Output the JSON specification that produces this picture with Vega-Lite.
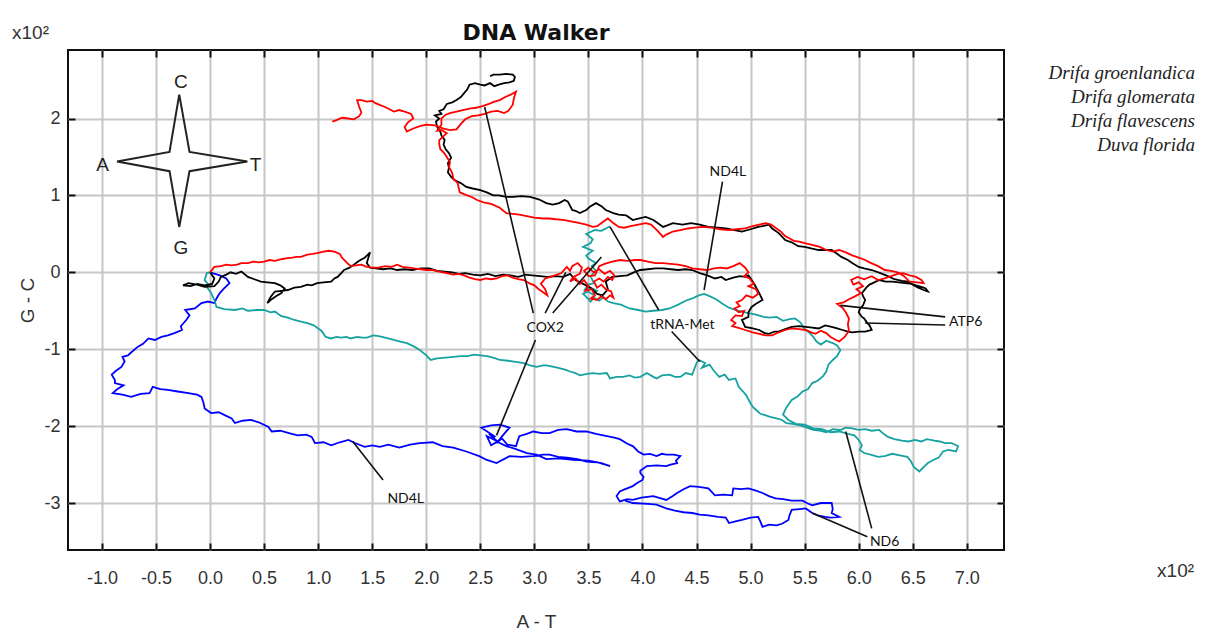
{
  "$schema": "https://vega.github.io/schema/vega-lite/v6.json",
  "autosize": {"type": "none"},
  "width": 936,
  "height": 500,
  "padding": {"left": 68, "top": 50, "right": 201, "bottom": 82},
  "background": "white",
  "config": {"view": {"stroke": "#111", "strokeWidth": 2}},
  "title": {"text": "DNA Walker", "font": "DejaVu Sans", "fontSize": 22, "fontWeight": "bold", "color": "#111", "anchor": "middle", "frame": "group", "offset": -21},
  "datasets": {
    "walk": [
      {"s":"B","x":0,"y":0},{"s":"B","x":0.09,"y":-0.04},{"s":"B","x":0.15,"y":-0.08},{"s":"B","x":0.18,"y":-0.14},{"s":"B","x":0.13,"y":-0.21},{"s":"B","x":0.09,"y":-0.27},{"s":"B","x":0.06,"y":-0.34},{"s":"B","x":0.04,"y":-0.40},{"s":"B","x":-0.02,"y":-0.38},{"s":"B","x":-0.08,"y":-0.40},{"s":"B","x":-0.14,"y":-0.47},{"s":"B","x":-0.23,"y":-0.49},{"s":"B","x":-0.19,"y":-0.56},{"s":"B","x":-0.22,"y":-0.62},{"s":"B","x":-0.27,"y":-0.70},{"s":"B","x":-0.26,"y":-0.75},{"s":"B","x":-0.33,"y":-0.79},{"s":"B","x":-0.39,"y":-0.82},{"s":"B","x":-0.45,"y":-0.84},{"s":"B","x":-0.51,"y":-0.88},{"s":"B","x":-0.57,"y":-0.86},{"s":"B","x":-0.62,"y":-0.93},{"s":"B","x":-0.67,"y":-0.97},{"s":"B","x":-0.72,"y":-1.03},{"s":"B","x":-0.76,"y":-1.08},{"s":"B","x":-0.81,"y":-1.10},{"s":"B","x":-0.79,"y":-1.16},{"s":"B","x":-0.82,"y":-1.23},{"s":"B","x":-0.87,"y":-1.28},{"s":"B","x":-0.91,"y":-1.33},{"s":"B","x":-0.88,"y":-1.40},{"s":"B","x":-0.88,"y":-1.44},{"s":"B","x":-0.80,"y":-1.47},{"s":"B","x":-0.86,"y":-1.52},{"s":"B","x":-0.90,"y":-1.57},{"s":"B","x":-0.81,"y":-1.59},{"s":"B","x":-0.73,"y":-1.62},{"s":"B","x":-0.64,"y":-1.58},{"s":"B","x":-0.56,"y":-1.57},{"s":"B","x":-0.53,"y":-1.49},{"s":"B","x":-0.46,"y":-1.52},{"s":"B","x":-0.39,"y":-1.53},{"s":"B","x":-0.30,"y":-1.55},{"s":"B","x":-0.20,"y":-1.57},{"s":"B","x":-0.12,"y":-1.59},{"s":"B","x":-0.08,"y":-1.62},{"s":"B","x":-0.06,"y":-1.70},{"s":"B","x":-0.05,"y":-1.77},{"s":"B","x":0.01,"y":-1.83},{"s":"B","x":0.08,"y":-1.82},{"s":"B","x":0.14,"y":-1.86},{"s":"B","x":0.20,"y":-1.90},{"s":"B","x":0.23,"y":-1.96},{"s":"B","x":0.30,"y":-1.93},{"s":"B","x":0.38,"y":-1.92},{"s":"B","x":0.45,"y":-1.95},{"s":"B","x":0.54,"y":-2.01},{"s":"B","x":0.57,"y":-2.07},{"s":"B","x":0.65,"y":-2.06},{"s":"B","x":0.73,"y":-2.09},{"s":"B","x":0.81,"y":-2.12},{"s":"B","x":0.89,"y":-2.11},{"s":"B","x":0.94,"y":-2.14},{"s":"B","x":0.97,"y":-2.22},{"s":"B","x":1.05,"y":-2.21},{"s":"B","x":1.12,"y":-2.25},{"s":"B","x":1.20,"y":-2.21},{"s":"B","x":1.28,"y":-2.18},{"s":"B","x":1.34,"y":-2.22},{"s":"B","x":1.43,"y":-2.27},{"s":"B","x":1.50,"y":-2.25},{"s":"B","x":1.57,"y":-2.27},{"s":"B","x":1.65,"y":-2.24},{"s":"B","x":1.75,"y":-2.28},{"s":"B","x":1.85,"y":-2.24},{"s":"B","x":1.94,"y":-2.22},{"s":"B","x":2.06,"y":-2.21},{"s":"B","x":2.15,"y":-2.26},{"s":"B","x":2.25,"y":-2.28},{"s":"B","x":2.37,"y":-2.33},{"s":"B","x":2.49,"y":-2.39},{"s":"B","x":2.56,"y":-2.44},{"s":"B","x":2.65,"y":-2.48},{"s":"B","x":2.77,"y":-2.39},{"s":"B","x":2.88,"y":-2.40},{"s":"B","x":2.99,"y":-2.39},{"s":"B","x":3.08,"y":-2.37},{"s":"B","x":3.14,"y":-2.37},{"s":"B","x":3.22,"y":-2.40},{"s":"B","x":3.30,"y":-2.41},{"s":"B","x":3.40,"y":-2.43},{"s":"B","x":3.48,"y":-2.46},{"s":"B","x":3.58,"y":-2.47},{"s":"B","x":3.70,"y":-2.52},{"s":"B","x":3.62,"y":-2.48},{"s":"B","x":3.50,"y":-2.45},{"s":"B","x":3.36,"y":-2.44},{"s":"B","x":3.22,"y":-2.42},{"s":"B","x":3.11,"y":-2.43},{"s":"B","x":3.02,"y":-2.37},{"s":"B","x":2.93,"y":-2.35},{"s":"B","x":2.83,"y":-2.30},{"s":"B","x":2.74,"y":-2.26},{"s":"B","x":2.68,"y":-2.22},{"s":"B","x":2.62,"y":-2.17},{"s":"B","x":2.56,"y":-2.13},{"s":"B","x":2.60,"y":-2.25},{"s":"B","x":2.66,"y":-2.20},{"s":"B","x":2.58,"y":-2.10},{"s":"B","x":2.64,"y":-2.14},{"s":"B","x":2.51,"y":-2.02},{"s":"B","x":2.60,"y":-1.99},{"s":"B","x":2.68,"y":-1.98},{"s":"B","x":2.77,"y":-2.02},{"s":"B","x":2.72,"y":-2.10},{"s":"B","x":2.65,"y":-2.22},{"s":"B","x":2.70,"y":-2.16},{"s":"B","x":2.75,"y":-2.24},{"s":"B","x":2.83,"y":-2.26},{"s":"B","x":2.86,"y":-2.13},{"s":"B","x":2.93,"y":-2.10},{"s":"B","x":2.99,"y":-2.07},{"s":"B","x":3.07,"y":-2.09},{"s":"B","x":3.14,"y":-2.09},{"s":"B","x":3.22,"y":-2.05},{"s":"B","x":3.30,"y":-2.04},{"s":"B","x":3.39,"y":-2.07},{"s":"B","x":3.48,"y":-2.07},{"s":"B","x":3.57,"y":-2.10},{"s":"B","x":3.67,"y":-2.13},{"s":"B","x":3.74,"y":-2.15},{"s":"B","x":3.79,"y":-2.17},{"s":"B","x":3.86,"y":-2.23},{"s":"B","x":3.91,"y":-2.26},{"s":"B","x":3.96,"y":-2.33},{"s":"B","x":4.01,"y":-2.37},{"s":"B","x":4.07,"y":-2.36},{"s":"B","x":4.13,"y":-2.39},{"s":"B","x":4.18,"y":-2.36},{"s":"B","x":4.22,"y":-2.37},{"s":"B","x":4.29,"y":-2.37},{"s":"B","x":4.35,"y":-2.39},{"s":"B","x":4.31,"y":-2.45},{"s":"B","x":4.32,"y":-2.48},{"s":"B","x":4.26,"y":-2.50},{"s":"B","x":4.22,"y":-2.52},{"s":"B","x":4.13,"y":-2.51},{"s":"B","x":4.04,"y":-2.52},{"s":"B","x":3.98,"y":-2.58},{"s":"B","x":3.98,"y":-2.61},{"s":"B","x":4.01,"y":-2.66},{"s":"B","x":4.00,"y":-2.70},{"s":"B","x":3.95,"y":-2.74},{"s":"B","x":3.91,"y":-2.78},{"s":"B","x":3.84,"y":-2.82},{"s":"B","x":3.79,"y":-2.85},{"s":"B","x":3.76,"y":-2.91},{"s":"B","x":3.79,"y":-2.98},{"s":"B","x":3.86,"y":-2.95},{"s":"B","x":3.91,"y":-2.96},{"s":"B","x":3.99,"y":-2.93},{"s":"B","x":4.10,"y":-2.91},{"s":"B","x":4.17,"y":-2.94},{"s":"B","x":4.22,"y":-2.96},{"s":"B","x":4.28,"y":-2.91},{"s":"B","x":4.32,"y":-2.87},{"s":"B","x":4.38,"y":-2.82},{"s":"B","x":4.44,"y":-2.78},{"s":"B","x":4.52,"y":-2.79},{"s":"B","x":4.61,"y":-2.81},{"s":"B","x":4.67,"y":-2.90},{"s":"B","x":4.75,"y":-2.89},{"s":"B","x":4.83,"y":-2.90},{"s":"B","x":4.84,"y":-2.81},{"s":"B","x":4.91,"y":-2.82},{"s":"B","x":4.98,"y":-2.81},{"s":"B","x":5.05,"y":-2.84},{"s":"B","x":5.11,"y":-2.87},{"s":"B","x":5.17,"y":-2.91},{"s":"B","x":5.23,"y":-2.94},{"s":"B","x":5.30,"y":-2.95},{"s":"B","x":5.38,"y":-2.97},{"s":"B","x":5.48,"y":-2.97},{"s":"B","x":5.52,"y":-3.00},{"s":"B","x":5.57,"y":-3.03},{"s":"B","x":5.65,"y":-3.00},{"s":"B","x":5.75,"y":-3.00},{"s":"B","x":5.76,"y":-3.08},{"s":"B","x":5.75,"y":-3.13},{"s":"B","x":5.82,"y":-3.18},{"s":"B","x":5.74,"y":-3.19},{"s":"B","x":5.69,"y":-3.18},{"s":"B","x":5.62,"y":-3.16},{"s":"B","x":5.57,"y":-3.13},{"s":"B","x":5.51,"y":-3.07},{"s":"B","x":5.45,"y":-3.08},{"s":"B","x":5.38,"y":-3.09},{"s":"B","x":5.36,"y":-3.16},{"s":"B","x":5.35,"y":-3.22},{"s":"B","x":5.29,"y":-3.27},{"s":"B","x":5.24,"y":-3.29},{"s":"B","x":5.17,"y":-3.28},{"s":"B","x":5.11,"y":-3.31},{"s":"B","x":5.09,"y":-3.24},{"s":"B","x":5.07,"y":-3.18},{"s":"B","x":5.00,"y":-3.19},{"s":"B","x":4.92,"y":-3.22},{"s":"B","x":4.86,"y":-3.24},{"s":"B","x":4.80,"y":-3.26},{"s":"B","x":4.77,"y":-3.19},{"s":"B","x":4.70,"y":-3.18},{"s":"B","x":4.61,"y":-3.16},{"s":"B","x":4.53,"y":-3.15},{"s":"B","x":4.46,"y":-3.13},{"s":"B","x":4.38,"y":-3.12},{"s":"B","x":4.30,"y":-3.10},{"s":"B","x":4.22,"y":-3.07},{"s":"B","x":4.13,"y":-3.02},{"s":"B","x":4.05,"y":-3.01},{"s":"B","x":3.91,"y":-3.00},{"s":"B","x":3.84,"y":-2.97},
      {"s":"C","x":0,"y":0},{"s":"C","x":-0.03,"y":-0.01},{"s":"C","x":-0.05,"y":-0.10},{"s":"C","x":-0.02,"y":-0.15},{"s":"C","x":-0.03,"y":-0.19},{"s":"C","x":0.01,"y":-0.27},{"s":"C","x":0.04,"y":-0.36},{"s":"C","x":0.06,"y":-0.45},{"s":"C","x":0.13,"y":-0.48},{"s":"C","x":0.23,"y":-0.49},{"s":"C","x":0.30,"y":-0.47},{"s":"C","x":0.35,"y":-0.50},{"s":"C","x":0.43,"y":-0.49},{"s":"C","x":0.50,"y":-0.49},{"s":"C","x":0.56,"y":-0.52},{"s":"C","x":0.60,"y":-0.51},{"s":"C","x":0.66,"y":-0.57},{"s":"C","x":0.72,"y":-0.59},{"s":"C","x":0.78,"y":-0.62},{"s":"C","x":0.84,"y":-0.64},{"s":"C","x":0.90,"y":-0.66},{"s":"C","x":0.96,"y":-0.69},{"s":"C","x":1.00,"y":-0.73},{"s":"C","x":1.03,"y":-0.76},{"s":"C","x":1.07,"y":-0.84},{"s":"C","x":1.12,"y":-0.86},{"s":"C","x":1.17,"y":-0.84},{"s":"C","x":1.21,"y":-0.85},{"s":"C","x":1.26,"y":-0.84},{"s":"C","x":1.30,"y":-0.86},{"s":"C","x":1.36,"y":-0.84},{"s":"C","x":1.41,"y":-0.85},{"s":"C","x":1.45,"y":-0.85},{"s":"C","x":1.51,"y":-0.82},{"s":"C","x":1.56,"y":-0.83},{"s":"C","x":1.62,"y":-0.85},{"s":"C","x":1.70,"y":-0.88},{"s":"C","x":1.76,"y":-0.90},{"s":"C","x":1.82,"y":-0.92},{"s":"C","x":1.88,"y":-0.96},{"s":"C","x":1.94,"y":-1.01},{"s":"C","x":2.00,"y":-1.08},{"s":"C","x":2.04,"y":-1.14},{"s":"C","x":2.10,"y":-1.12},{"s":"C","x":2.18,"y":-1.11},{"s":"C","x":2.25,"y":-1.10},{"s":"C","x":2.32,"y":-1.09},{"s":"C","x":2.38,"y":-1.09},{"s":"C","x":2.44,"y":-1.07},{"s":"C","x":2.50,"y":-1.08},{"s":"C","x":2.56,"y":-1.09},{"s":"C","x":2.59,"y":-1.10},{"s":"C","x":2.64,"y":-1.12},{"s":"C","x":2.68,"y":-1.14},{"s":"C","x":2.76,"y":-1.15},{"s":"C","x":2.81,"y":-1.16},{"s":"C","x":2.86,"y":-1.17},{"s":"C","x":2.90,"y":-1.18},{"s":"C","x":2.96,"y":-1.21},{"s":"C","x":3.02,"y":-1.23},{"s":"C","x":3.08,"y":-1.21},{"s":"C","x":3.11,"y":-1.21},{"s":"C","x":3.18,"y":-1.23},{"s":"C","x":3.24,"y":-1.25},{"s":"C","x":3.29,"y":-1.27},{"s":"C","x":3.33,"y":-1.29},{"s":"C","x":3.38,"y":-1.31},{"s":"C","x":3.42,"y":-1.34},{"s":"C","x":3.49,"y":-1.32},{"s":"C","x":3.54,"y":-1.31},{"s":"C","x":3.60,"y":-1.32},{"s":"C","x":3.67,"y":-1.31},{"s":"C","x":3.70,"y":-1.38},{"s":"C","x":3.76,"y":-1.36},{"s":"C","x":3.82,"y":-1.36},{"s":"C","x":3.88,"y":-1.34},{"s":"C","x":3.93,"y":-1.37},{"s":"C","x":3.98,"y":-1.36},{"s":"C","x":4.04,"y":-1.31},{"s":"C","x":4.10,"y":-1.36},{"s":"C","x":4.13,"y":-1.38},{"s":"C","x":4.18,"y":-1.34},{"s":"C","x":4.25,"y":-1.33},{"s":"C","x":4.30,"y":-1.36},{"s":"C","x":4.35,"y":-1.36},{"s":"C","x":4.40,"y":-1.31},{"s":"C","x":4.46,"y":-1.33},{"s":"C","x":4.50,"y":-1.18},{"s":"C","x":4.52,"y":-1.14},{"s":"C","x":4.58,"y":-1.18},{"s":"C","x":4.55,"y":-1.24},{"s":"C","x":4.62,"y":-1.20},{"s":"C","x":4.66,"y":-1.28},{"s":"C","x":4.71,"y":-1.36},{"s":"C","x":4.76,"y":-1.33},{"s":"C","x":4.80,"y":-1.40},{"s":"C","x":4.86,"y":-1.38},{"s":"C","x":4.88,"y":-1.45},{"s":"C","x":4.89,"y":-1.49},{"s":"C","x":4.93,"y":-1.55},{"s":"C","x":4.96,"y":-1.60},{"s":"C","x":4.99,"y":-1.68},{"s":"C","x":5.02,"y":-1.75},{"s":"C","x":5.06,"y":-1.80},{"s":"C","x":5.09,"y":-1.84},{"s":"C","x":5.14,"y":-1.86},{"s":"C","x":5.18,"y":-1.88},{"s":"C","x":5.24,"y":-1.90},{"s":"C","x":5.29,"y":-1.92},{"s":"C","x":5.33,"y":-1.96},{"s":"C","x":5.39,"y":-1.97},{"s":"C","x":5.46,"y":-1.99},{"s":"C","x":5.52,"y":-2.02},{"s":"C","x":5.58,"y":-2.05},{"s":"C","x":5.64,"y":-2.06},{"s":"C","x":5.70,"y":-2.08},{"s":"C","x":5.76,"y":-2.04},{"s":"C","x":5.83,"y":-2.05},{"s":"C","x":5.88,"y":-2.02},{"s":"C","x":5.94,"y":-2.03},{"s":"C","x":6.00,"y":-2.05},{"s":"C","x":6.06,"y":-2.04},{"s":"C","x":6.12,"y":-2.06},{"s":"C","x":6.19,"y":-2.05},{"s":"C","x":6.23,"y":-2.10},{"s":"C","x":6.27,"y":-2.14},{"s":"C","x":6.33,"y":-2.17},{"s":"C","x":6.40,"y":-2.19},{"s":"C","x":6.46,"y":-2.20},{"s":"C","x":6.52,"y":-2.18},{"s":"C","x":6.58,"y":-2.20},{"s":"C","x":6.63,"y":-2.17},{"s":"C","x":6.70,"y":-2.19},{"s":"C","x":6.75,"y":-2.20},{"s":"C","x":6.80,"y":-2.22},{"s":"C","x":6.86,"y":-2.22},{"s":"C","x":6.92,"y":-2.26},{"s":"C","x":6.90,"y":-2.33},{"s":"C","x":6.83,"y":-2.31},{"s":"C","x":6.78,"y":-2.33},{"s":"C","x":6.74,"y":-2.41},{"s":"C","x":6.69,"y":-2.44},{"s":"C","x":6.64,"y":-2.48},{"s":"C","x":6.61,"y":-2.52},{"s":"C","x":6.56,"y":-2.59},{"s":"C","x":6.51,"y":-2.53},{"s":"C","x":6.48,"y":-2.45},{"s":"C","x":6.45,"y":-2.40},{"s":"C","x":6.38,"y":-2.38},{"s":"C","x":6.31,"y":-2.36},{"s":"C","x":6.24,"y":-2.39},{"s":"C","x":6.18,"y":-2.40},{"s":"C","x":6.11,"y":-2.37},{"s":"C","x":6.05,"y":-2.35},{"s":"C","x":6.01,"y":-2.31},{"s":"C","x":6.03,"y":-2.25},{"s":"C","x":6.00,"y":-2.18},{"s":"C","x":5.96,"y":-2.12},{"s":"C","x":5.90,"y":-2.10},{"s":"C","x":5.82,"y":-2.07},{"s":"C","x":5.74,"y":-2.08},{"s":"C","x":5.66,"y":-2.04},{"s":"C","x":5.58,"y":-2.03},{"s":"C","x":5.50,"y":-1.98},{"s":"C","x":5.42,"y":-1.97},{"s":"C","x":5.35,"y":-1.92},{"s":"C","x":5.30,"y":-1.85},{"s":"C","x":5.33,"y":-1.76},{"s":"C","x":5.38,"y":-1.66},{"s":"C","x":5.43,"y":-1.62},{"s":"C","x":5.48,"y":-1.55},{"s":"C","x":5.53,"y":-1.52},{"s":"C","x":5.57,"y":-1.44},{"s":"C","x":5.62,"y":-1.41},{"s":"C","x":5.67,"y":-1.35},{"s":"C","x":5.70,"y":-1.29},{"s":"C","x":5.72,"y":-1.20},{"s":"C","x":5.76,"y":-1.14},{"s":"C","x":5.80,"y":-1.09},{"s":"C","x":5.83,"y":-1.01},{"s":"C","x":5.80,"y":-0.95},{"s":"C","x":5.76,"y":-0.92},{"s":"C","x":5.70,"y":-0.89},{"s":"C","x":5.65,"y":-0.94},{"s":"C","x":5.61,"y":-0.90},{"s":"C","x":5.58,"y":-0.84},{"s":"C","x":5.54,"y":-0.78},{"s":"C","x":5.50,"y":-0.74},{"s":"C","x":5.46,"y":-0.65},{"s":"C","x":5.41,"y":-0.60},{"s":"C","x":5.36,"y":-0.61},{"s":"C","x":5.30,"y":-0.63},{"s":"C","x":5.24,"y":-0.58},{"s":"C","x":5.18,"y":-0.59},{"s":"C","x":5.12,"y":-0.58},{"s":"C","x":5.05,"y":-0.55},{"s":"C","x":4.98,"y":-0.53},{"s":"C","x":4.92,"y":-0.51},{"s":"C","x":4.86,"y":-0.49},{"s":"C","x":4.80,"y":-0.46},{"s":"C","x":4.74,"y":-0.41},{"s":"C","x":4.68,"y":-0.35},{"s":"C","x":4.62,"y":-0.31},{"s":"C","x":4.57,"y":-0.28},{"s":"C","x":4.52,"y":-0.30},{"s":"C","x":4.46,"y":-0.34},{"s":"C","x":4.40,"y":-0.37},{"s":"C","x":4.33,"y":-0.42},{"s":"C","x":4.25,"y":-0.47},{"s":"C","x":4.18,"y":-0.49},{"s":"C","x":4.10,"y":-0.50},{"s":"C","x":4.03,"y":-0.51},{"s":"C","x":3.96,"y":-0.49},{"s":"C","x":3.88,"y":-0.47},{"s":"C","x":3.80,"y":-0.42},{"s":"C","x":3.73,"y":-0.40},{"s":"C","x":3.68,"y":-0.38},{"s":"C","x":3.64,"y":-0.32},{"s":"C","x":3.60,"y":-0.37},{"s":"C","x":3.55,"y":-0.33},{"s":"C","x":3.52,"y":-0.38},{"s":"C","x":3.48,"y":-0.32},{"s":"C","x":3.45,"y":-0.28},{"s":"C","x":3.50,"y":-0.25},{"s":"C","x":3.54,"y":-0.29},{"s":"C","x":3.58,"y":-0.24},{"s":"C","x":3.52,"y":-0.20},{"s":"C","x":3.47,"y":-0.22},{"s":"C","x":3.50,"y":-0.16},{"s":"C","x":3.55,"y":-0.14},{"s":"C","x":3.52,"y":-0.05},{"s":"C","x":3.57,"y":0.02},{"s":"C","x":3.53,"y":0.08},{"s":"C","x":3.57,"y":0.12},{"s":"C","x":3.50,"y":0.18},{"s":"C","x":3.48,"y":0.22},{"s":"C","x":3.54,"y":0.28},{"s":"C","x":3.45,"y":0.33},{"s":"C","x":3.52,"y":0.38},{"s":"C","x":3.54,"y":0.43},{"s":"C","x":3.48,"y":0.50},{"s":"C","x":3.56,"y":0.55},{"s":"C","x":3.62,"y":0.54},{"s":"C","x":3.70,"y":0.60},
      {"s":"K","x":0,"y":0},{"s":"K","x":0.04,"y":-0.08},{"s":"K","x":0.02,"y":-0.15},{"s":"K","x":-0.05,"y":-0.17},{"s":"K","x":-0.12,"y":-0.15},{"s":"K","x":-0.18,"y":-0.18},{"s":"K","x":-0.25,"y":-0.17},{"s":"K","x":-0.20,"y":-0.14},{"s":"K","x":-0.12,"y":-0.16},{"s":"K","x":-0.05,"y":-0.19},{"s":"K","x":0.04,"y":-0.18},{"s":"K","x":0.08,"y":-0.12},{"s":"K","x":0.10,"y":-0.06},{"s":"K","x":0.15,"y":-0.03},{"s":"K","x":0.19,"y":0.00},{"s":"K","x":0.24,"y":-0.02},{"s":"K","x":0.29,"y":0.01},{"s":"K","x":0.35,"y":-0.06},{"s":"K","x":0.41,"y":-0.09},{"s":"K","x":0.47,"y":-0.12},{"s":"K","x":0.53,"y":-0.13},{"s":"K","x":0.60,"y":-0.14},{"s":"K","x":0.65,"y":-0.17},{"s":"K","x":0.69,"y":-0.21},{"s":"K","x":0.66,"y":-0.27},{"s":"K","x":0.61,"y":-0.31},{"s":"K","x":0.56,"y":-0.36},{"s":"K","x":0.53,"y":-0.40},{"s":"K","x":0.56,"y":-0.32},{"s":"K","x":0.60,"y":-0.25},{"s":"K","x":0.66,"y":-0.24},{"s":"K","x":0.72,"y":-0.23},{"s":"K","x":0.78,"y":-0.20},{"s":"K","x":0.84,"y":-0.19},{"s":"K","x":0.90,"y":-0.16},{"s":"K","x":0.94,"y":-0.17},{"s":"K","x":0.99,"y":-0.14},{"s":"K","x":1.05,"y":-0.13},{"s":"K","x":1.12,"y":-0.12},{"s":"K","x":1.15,"y":-0.08},{"s":"K","x":1.18,"y":-0.06},{"s":"K","x":1.22,"y":0.00},{"s":"K","x":1.24,"y":0.03},{"s":"K","x":1.29,"y":0.06},{"s":"K","x":1.33,"y":0.10},{"s":"K","x":1.36,"y":0.13},{"s":"K","x":1.39,"y":0.16},{"s":"K","x":1.43,"y":0.19},{"s":"K","x":1.46,"y":0.23},{"s":"K","x":1.48,"y":0.26},{"s":"K","x":1.46,"y":0.17},{"s":"K","x":1.45,"y":0.12},{"s":"K","x":1.48,"y":0.06},{"s":"K","x":1.53,"y":0.05},{"s":"K","x":1.60,"y":0.04},{"s":"K","x":1.67,"y":0.05},{"s":"K","x":1.73,"y":0.03},{"s":"K","x":1.80,"y":0.04},{"s":"K","x":1.87,"y":0.03},{"s":"K","x":1.95,"y":0.05},{"s":"K","x":2.03,"y":0.05},{"s":"K","x":2.10,"y":0.02},{"s":"K","x":2.17,"y":0.01},{"s":"K","x":2.24,"y":0.00},{"s":"K","x":2.30,"y":-0.02},{"s":"K","x":2.36,"y":-0.01},{"s":"K","x":2.43,"y":-0.03},{"s":"K","x":2.50,"y":-0.04},{"s":"K","x":2.57,"y":-0.02},{"s":"K","x":2.64,"y":-0.05},{"s":"K","x":2.71,"y":-0.03},{"s":"K","x":2.78,"y":-0.04},{"s":"K","x":2.85,"y":-0.06},{"s":"K","x":2.92,"y":-0.03},{"s":"K","x":2.98,"y":-0.04},{"s":"K","x":3.05,"y":-0.05},{"s":"K","x":3.12,"y":-0.06},{"s":"K","x":3.20,"y":-0.05},{"s":"K","x":3.27,"y":-0.06},{"s":"K","x":3.33,"y":-0.02},{"s":"K","x":3.38,"y":-0.10},{"s":"K","x":3.45,"y":-0.15},{"s":"K","x":3.52,"y":-0.20},{"s":"K","x":3.58,"y":-0.28},{"s":"K","x":3.63,"y":-0.30},{"s":"K","x":3.68,"y":-0.22},{"s":"K","x":3.66,"y":-0.12},{"s":"K","x":3.72,"y":-0.06},{"s":"K","x":3.79,"y":-0.05},{"s":"K","x":3.86,"y":-0.04},{"s":"K","x":3.92,"y":0.00},{"s":"K","x":3.98,"y":0.03},{"s":"K","x":4.05,"y":0.04},{"s":"K","x":4.12,"y":0.05},{"s":"K","x":4.19,"y":0.05},{"s":"K","x":4.26,"y":0.04},{"s":"K","x":4.33,"y":0.03},{"s":"K","x":4.40,"y":0.04},{"s":"K","x":4.46,"y":0.03},{"s":"K","x":4.53,"y":-0.01},{"s":"K","x":4.60,"y":-0.04},{"s":"K","x":4.67,"y":-0.08},{"s":"K","x":4.73,"y":-0.06},{"s":"K","x":4.77,"y":-0.10},{"s":"K","x":4.84,"y":-0.07},{"s":"K","x":4.90,"y":-0.05},{"s":"K","x":4.95,"y":-0.06},{"s":"K","x":4.98,"y":-0.04},{"s":"K","x":5.02,"y":-0.12},{"s":"K","x":5.06,"y":-0.22},{"s":"K","x":5.08,"y":-0.27},{"s":"K","x":5.11,"y":-0.36},{"s":"K","x":5.05,"y":-0.41},{"s":"K","x":5.01,"y":-0.45},{"s":"K","x":4.98,"y":-0.52},{"s":"K","x":4.98,"y":-0.58},{"s":"K","x":4.92,"y":-0.62},{"s":"K","x":4.95,"y":-0.71},{"s":"K","x":5.02,"y":-0.73},{"s":"K","x":5.08,"y":-0.75},{"s":"K","x":5.13,"y":-0.79},{"s":"K","x":5.17,"y":-0.80},{"s":"K","x":5.22,"y":-0.77},{"s":"K","x":5.26,"y":-0.77},{"s":"K","x":5.32,"y":-0.74},{"s":"K","x":5.38,"y":-0.71},{"s":"K","x":5.45,"y":-0.70},{"s":"K","x":5.51,"y":-0.71},{"s":"K","x":5.57,"y":-0.72},{"s":"K","x":5.63,"y":-0.73},{"s":"K","x":5.69,"y":-0.69},{"s":"K","x":5.75,"y":-0.71},{"s":"K","x":5.80,"y":-0.73},{"s":"K","x":5.85,"y":-0.75},{"s":"K","x":5.90,"y":-0.77},{"s":"K","x":5.94,"y":-0.78},{"s":"K","x":6.00,"y":-0.77},{"s":"K","x":6.06,"y":-0.77},{"s":"K","x":6.12,"y":-0.75},{"s":"K","x":6.10,"y":-0.69},{"s":"K","x":6.08,"y":-0.66},{"s":"K","x":6.05,"y":-0.60},{"s":"K","x":6.03,"y":-0.58},{"s":"K","x":6.00,"y":-0.52},{"s":"K","x":6.01,"y":-0.48},{"s":"K","x":6.04,"y":-0.43},{"s":"K","x":6.06,"y":-0.36},{"s":"K","x":6.04,"y":-0.31},{"s":"K","x":6.03,"y":-0.27},{"s":"K","x":6.07,"y":-0.20},{"s":"K","x":6.10,"y":-0.16},{"s":"K","x":6.13,"y":-0.14},{"s":"K","x":6.19,"y":-0.10},{"s":"K","x":6.25,"y":-0.12},{"s":"K","x":6.31,"y":-0.12},{"s":"K","x":6.37,"y":-0.13},{"s":"K","x":6.43,"y":-0.14},{"s":"K","x":6.49,"y":-0.15},{"s":"K","x":6.53,"y":-0.17},{"s":"K","x":6.58,"y":-0.19},{"s":"K","x":6.62,"y":-0.21},{"s":"K","x":6.64,"y":-0.25},{"s":"K","x":6.60,"y":-0.23},{"s":"K","x":6.55,"y":-0.20},{"s":"K","x":6.50,"y":-0.16},{"s":"K","x":6.46,"y":-0.12},{"s":"K","x":6.40,"y":-0.11},{"s":"K","x":6.33,"y":-0.09},{"s":"K","x":6.27,"y":-0.05},{"s":"K","x":6.20,"y":-0.01},{"s":"K","x":6.12,"y":0.03},{"s":"K","x":6.05,"y":0.05},{"s":"K","x":6.00,"y":0.07},{"s":"K","x":5.94,"y":0.12},{"s":"K","x":5.90,"y":0.16},{"s":"K","x":5.84,"y":0.20},{"s":"K","x":5.79,"y":0.25},{"s":"K","x":5.75,"y":0.29},{"s":"K","x":5.68,"y":0.29},{"s":"K","x":5.63,"y":0.29},{"s":"K","x":5.56,"y":0.31},{"s":"K","x":5.50,"y":0.33},{"s":"K","x":5.44,"y":0.34},{"s":"K","x":5.38,"y":0.39},{"s":"K","x":5.32,"y":0.42},{"s":"K","x":5.28,"y":0.48},{"s":"K","x":5.26,"y":0.51},{"s":"K","x":5.20,"y":0.57},{"s":"K","x":5.17,"y":0.62},{"s":"K","x":5.11,"y":0.60},{"s":"K","x":5.07,"y":0.59},{"s":"K","x":5.00,"y":0.56},{"s":"K","x":4.92,"y":0.53},{"s":"K","x":4.85,"y":0.55},{"s":"K","x":4.77,"y":0.57},{"s":"K","x":4.70,"y":0.58},{"s":"K","x":4.61,"y":0.59},{"s":"K","x":4.53,"y":0.62},{"s":"K","x":4.45,"y":0.64},{"s":"K","x":4.37,"y":0.62},{"s":"K","x":4.28,"y":0.64},{"s":"K","x":4.23,"y":0.61},{"s":"K","x":4.19,"y":0.59},{"s":"K","x":4.14,"y":0.64},{"s":"K","x":4.10,"y":0.68},{"s":"K","x":4.03,"y":0.72},{"s":"K","x":3.97,"y":0.70},{"s":"K","x":3.91,"y":0.68},{"s":"K","x":3.85,"y":0.74},{"s":"K","x":3.78,"y":0.75},{"s":"K","x":3.73,"y":0.77},{"s":"K","x":3.66,"y":0.81},{"s":"K","x":3.62,"y":0.86},{"s":"K","x":3.57,"y":0.90},{"s":"K","x":3.52,"y":0.86},{"s":"K","x":3.48,"y":0.81},{"s":"K","x":3.42,"y":0.77},{"s":"K","x":3.38,"y":0.80},{"s":"K","x":3.35,"y":0.81},{"s":"K","x":3.31,"y":0.92},{"s":"K","x":3.28,"y":0.94},{"s":"K","x":3.23,"y":0.90},{"s":"K","x":3.17,"y":0.88},{"s":"K","x":3.11,"y":0.90},{"s":"K","x":3.04,"y":0.95},{"s":"K","x":2.96,"y":0.98},{"s":"K","x":2.88,"y":0.99},{"s":"K","x":2.80,"y":0.98},{"s":"K","x":2.74,"y":0.98},{"s":"K","x":2.67,"y":1.00},{"s":"K","x":2.62,"y":1.00},{"s":"K","x":2.56,"y":1.04},{"s":"K","x":2.50,"y":1.07},{"s":"K","x":2.43,"y":1.09},{"s":"K","x":2.37,"y":1.11},{"s":"K","x":2.32,"y":1.16},{"s":"K","x":2.26,"y":1.20},{"s":"K","x":2.23,"y":1.24},{"s":"K","x":2.20,"y":1.30},{"s":"K","x":2.21,"y":1.36},{"s":"K","x":2.20,"y":1.42},{"s":"K","x":2.23,"y":1.49},{"s":"K","x":2.21,"y":1.55},{"s":"K","x":2.18,"y":1.60},{"s":"K","x":2.16,"y":1.66},{"s":"K","x":2.17,"y":1.72},{"s":"K","x":2.14,"y":1.78},{"s":"K","x":2.13,"y":1.83},{"s":"K","x":2.10,"y":1.89},{"s":"K","x":2.09,"y":1.96},{"s":"K","x":2.12,"y":2.00},{"s":"K","x":2.08,"y":2.04},{"s":"K","x":2.14,"y":2.06},{"s":"K","x":2.12,"y":2.10},{"s":"K","x":2.16,"y":2.12},{"s":"K","x":2.19,"y":2.19},{"s":"K","x":2.24,"y":2.21},{"s":"K","x":2.28,"y":2.24},{"s":"K","x":2.32,"y":2.28},{"s":"K","x":2.35,"y":2.33},{"s":"K","x":2.38,"y":2.38},{"s":"K","x":2.40,"y":2.44},{"s":"K","x":2.45,"y":2.46},{"s":"K","x":2.50,"y":2.44},{"s":"K","x":2.54,"y":2.43},{"s":"K","x":2.59,"y":2.46},{"s":"K","x":2.63,"y":2.42},{"s":"K","x":2.67,"y":2.44},{"s":"K","x":2.72,"y":2.46},{"s":"K","x":2.77,"y":2.47},{"s":"K","x":2.81,"y":2.49},{"s":"K","x":2.82,"y":2.54},{"s":"K","x":2.80,"y":2.57},{"s":"K","x":2.74,"y":2.58},{"s":"K","x":2.68,"y":2.57},{"s":"K","x":2.62,"y":2.57},{"s":"K","x":2.59,"y":2.55},
      {"s":"R","x":0,"y":0},{"s":"R","x":0.04,"y":0.07},{"s":"R","x":0.10,"y":0.08},{"s":"R","x":0.15,"y":0.10},{"s":"R","x":0.20,"y":0.09},{"s":"R","x":0.25,"y":0.10},{"s":"R","x":0.29,"y":0.12},{"s":"R","x":0.35,"y":0.12},{"s":"R","x":0.40,"y":0.14},{"s":"R","x":0.45,"y":0.13},{"s":"R","x":0.50,"y":0.14},{"s":"R","x":0.55,"y":0.16},{"s":"R","x":0.60,"y":0.15},{"s":"R","x":0.66,"y":0.17},{"s":"R","x":0.70,"y":0.18},{"s":"R","x":0.76,"y":0.19},{"s":"R","x":0.80,"y":0.20},{"s":"R","x":0.84,"y":0.20},{"s":"R","x":0.90,"y":0.23},{"s":"R","x":0.95,"y":0.24},{"s":"R","x":0.99,"y":0.25},{"s":"R","x":1.05,"y":0.27},{"s":"R","x":1.10,"y":0.28},{"s":"R","x":1.15,"y":0.27},{"s":"R","x":1.20,"y":0.24},{"s":"R","x":1.22,"y":0.19},{"s":"R","x":1.25,"y":0.15},{"s":"R","x":1.27,"y":0.12},{"s":"R","x":1.30,"y":0.08},{"s":"R","x":1.35,"y":0.09},{"s":"R","x":1.40,"y":0.10},{"s":"R","x":1.45,"y":0.07},{"s":"R","x":1.50,"y":0.06},{"s":"R","x":1.56,"y":0.06},{"s":"R","x":1.62,"y":0.08},{"s":"R","x":1.68,"y":0.07},{"s":"R","x":1.73,"y":0.10},{"s":"R","x":1.78,"y":0.07},{"s":"R","x":1.84,"y":0.06},{"s":"R","x":1.89,"y":0.05},{"s":"R","x":1.95,"y":0.04},{"s":"R","x":2.00,"y":0.03},{"s":"R","x":2.06,"y":0.03},{"s":"R","x":2.12,"y":0.01},{"s":"R","x":2.19,"y":-0.01},{"s":"R","x":2.25,"y":-0.03},{"s":"R","x":2.30,"y":-0.02},{"s":"R","x":2.35,"y":-0.04},{"s":"R","x":2.40,"y":-0.07},{"s":"R","x":2.45,"y":-0.09},{"s":"R","x":2.50,"y":-0.10},{"s":"R","x":2.55,"y":-0.08},{"s":"R","x":2.60,"y":-0.09},{"s":"R","x":2.65,"y":-0.08},{"s":"R","x":2.70,"y":-0.05},{"s":"R","x":2.75,"y":-0.04},{"s":"R","x":2.80,"y":-0.07},{"s":"R","x":2.85,"y":-0.09},{"s":"R","x":2.90,"y":-0.10},{"s":"R","x":2.95,"y":-0.14},{"s":"R","x":3.00,"y":-0.17},{"s":"R","x":3.04,"y":-0.22},{"s":"R","x":3.08,"y":-0.26},{"s":"R","x":3.12,"y":-0.30},{"s":"R","x":3.10,"y":-0.22},{"s":"R","x":3.06,"y":-0.15},{"s":"R","x":3.10,"y":-0.08},{"s":"R","x":3.17,"y":-0.05},{"s":"R","x":3.25,"y":-0.01},{"s":"R","x":3.30,"y":0.07},{"s":"R","x":3.33,"y":0.02},{"s":"R","x":3.35,"y":0.08},{"s":"R","x":3.40,"y":0.12},{"s":"R","x":3.44,"y":0.06},{"s":"R","x":3.42,"y":-0.02},{"s":"R","x":3.36,"y":-0.06},{"s":"R","x":3.33,"y":-0.12},{"s":"R","x":3.38,"y":-0.08},{"s":"R","x":3.42,"y":-0.15},{"s":"R","x":3.46,"y":-0.10},{"s":"R","x":3.50,"y":-0.18},{"s":"R","x":3.47,"y":-0.24},{"s":"R","x":3.53,"y":-0.22},{"s":"R","x":3.56,"y":-0.30},{"s":"R","x":3.52,"y":-0.34},{"s":"R","x":3.58,"y":-0.36},{"s":"R","x":3.62,"y":-0.31},{"s":"R","x":3.66,"y":-0.35},{"s":"R","x":3.70,"y":-0.30},{"s":"R","x":3.73,"y":-0.33},{"s":"R","x":3.71,"y":-0.25},{"s":"R","x":3.66,"y":-0.22},{"s":"R","x":3.62,"y":-0.16},{"s":"R","x":3.58,"y":-0.20},{"s":"R","x":3.55,"y":-0.12},{"s":"R","x":3.60,"y":-0.08},{"s":"R","x":3.64,"y":-0.12},{"s":"R","x":3.68,"y":-0.06},{"s":"R","x":3.72,"y":-0.10},{"s":"R","x":3.74,"y":-0.04},{"s":"R","x":3.70,"y":0.02},{"s":"R","x":3.65,"y":-0.02},{"s":"R","x":3.60,"y":0.04},{"s":"R","x":3.55,"y":0.00},{"s":"R","x":3.50,"y":0.06},{"s":"R","x":3.46,"y":0.02},{"s":"R","x":3.50,"y":-0.05},{"s":"R","x":3.56,"y":-0.04},{"s":"R","x":3.60,"y":0.08},{"s":"R","x":3.65,"y":0.11},{"s":"R","x":3.72,"y":0.14},{"s":"R","x":3.79,"y":0.16},{"s":"R","x":3.86,"y":0.15},{"s":"R","x":3.93,"y":0.16},{"s":"R","x":3.98,"y":0.16},{"s":"R","x":4.05,"y":0.14},{"s":"R","x":4.12,"y":0.12},{"s":"R","x":4.19,"y":0.12},{"s":"R","x":4.26,"y":0.11},{"s":"R","x":4.33,"y":0.10},{"s":"R","x":4.40,"y":0.08},{"s":"R","x":4.46,"y":0.05},{"s":"R","x":4.53,"y":0.04},{"s":"R","x":4.60,"y":0.03},{"s":"R","x":4.66,"y":0.05},{"s":"R","x":4.72,"y":0.06},{"s":"R","x":4.78,"y":0.05},{"s":"R","x":4.84,"y":0.08},{"s":"R","x":4.90,"y":0.12},{"s":"R","x":4.95,"y":0.06},{"s":"R","x":4.98,"y":0.00},{"s":"R","x":4.94,"y":-0.05},{"s":"R","x":4.99,"y":-0.08},{"s":"R","x":5.03,"y":-0.15},{"s":"R","x":4.98,"y":-0.18},{"s":"R","x":5.05,"y":-0.22},{"s":"R","x":5.07,"y":-0.28},{"s":"R","x":5.02,"y":-0.33},{"s":"R","x":4.96,"y":-0.30},{"s":"R","x":4.92,"y":-0.36},{"s":"R","x":4.87,"y":-0.39},{"s":"R","x":4.90,"y":-0.44},{"s":"R","x":4.85,"y":-0.47},{"s":"R","x":4.89,"y":-0.52},{"s":"R","x":4.94,"y":-0.50},{"s":"R","x":4.92,"y":-0.57},{"s":"R","x":4.86,"y":-0.56},{"s":"R","x":4.82,"y":-0.62},{"s":"R","x":4.86,"y":-0.66},{"s":"R","x":4.83,"y":-0.70},{"s":"R","x":4.88,"y":-0.72},{"s":"R","x":4.95,"y":-0.75},{"s":"R","x":5.02,"y":-0.78},{"s":"R","x":5.08,"y":-0.80},{"s":"R","x":5.14,"y":-0.82},{"s":"R","x":5.20,"y":-0.82},{"s":"R","x":5.26,"y":-0.78},{"s":"R","x":5.32,"y":-0.75},{"s":"R","x":5.38,"y":-0.73},{"s":"R","x":5.45,"y":-0.74},{"s":"R","x":5.51,"y":-0.75},{"s":"R","x":5.56,"y":-0.78},{"s":"R","x":5.60,"y":-0.80},{"s":"R","x":5.65,"y":-0.76},{"s":"R","x":5.70,"y":-0.79},{"s":"R","x":5.74,"y":-0.84},{"s":"R","x":5.79,"y":-0.88},{"s":"R","x":5.82,"y":-0.90},{"s":"R","x":5.87,"y":-0.84},{"s":"R","x":5.91,"y":-0.76},{"s":"R","x":5.90,"y":-0.68},{"s":"R","x":5.91,"y":-0.60},{"s":"R","x":5.88,"y":-0.52},{"s":"R","x":5.85,"y":-0.46},{"s":"R","x":5.80,"y":-0.41},{"s":"R","x":5.86,"y":-0.39},{"s":"R","x":5.91,"y":-0.35},{"s":"R","x":5.97,"y":-0.31},{"s":"R","x":6.02,"y":-0.27},{"s":"R","x":5.98,"y":-0.22},{"s":"R","x":6.04,"y":-0.18},{"s":"R","x":6.00,"y":-0.13},{"s":"R","x":5.95,"y":-0.16},{"s":"R","x":5.93,"y":-0.10},{"s":"R","x":5.99,"y":-0.06},{"s":"R","x":6.05,"y":-0.09},{"s":"R","x":6.12,"y":-0.05},{"s":"R","x":6.18,"y":-0.10},{"s":"R","x":6.24,"y":-0.08},{"s":"R","x":6.30,"y":-0.05},{"s":"R","x":6.36,"y":-0.02},{"s":"R","x":6.41,"y":-0.01},{"s":"R","x":6.47,"y":-0.04},{"s":"R","x":6.53,"y":-0.06},{"s":"R","x":6.58,"y":-0.10},{"s":"R","x":6.60,"y":-0.14},{"s":"R","x":6.54,"y":-0.13},{"s":"R","x":6.47,"y":-0.12},{"s":"R","x":6.42,"y":-0.05},{"s":"R","x":6.36,"y":0.00},{"s":"R","x":6.30,"y":0.02},{"s":"R","x":6.24,"y":0.03},{"s":"R","x":6.18,"y":0.08},{"s":"R","x":6.10,"y":0.13},{"s":"R","x":6.06,"y":0.16},{"s":"R","x":6.00,"y":0.19},{"s":"R","x":5.94,"y":0.22},{"s":"R","x":5.88,"y":0.26},{"s":"R","x":5.82,"y":0.29},{"s":"R","x":5.76,"y":0.27},{"s":"R","x":5.70,"y":0.29},{"s":"R","x":5.64,"y":0.33},{"s":"R","x":5.56,"y":0.36},{"s":"R","x":5.50,"y":0.38},{"s":"R","x":5.45,"y":0.40},{"s":"R","x":5.40,"y":0.41},{"s":"R","x":5.35,"y":0.45},{"s":"R","x":5.32,"y":0.47},{"s":"R","x":5.28,"y":0.53},{"s":"R","x":5.24,"y":0.57},{"s":"R","x":5.19,"y":0.62},{"s":"R","x":5.14,"y":0.64},{"s":"R","x":5.08,"y":0.62},{"s":"R","x":5.02,"y":0.60},{"s":"R","x":4.95,"y":0.57},{"s":"R","x":4.87,"y":0.56},{"s":"R","x":4.80,"y":0.55},{"s":"R","x":4.72,"y":0.56},{"s":"R","x":4.64,"y":0.58},{"s":"R","x":4.56,"y":0.59},{"s":"R","x":4.48,"y":0.58},{"s":"R","x":4.42,"y":0.57},{"s":"R","x":4.35,"y":0.55},{"s":"R","x":4.28,"y":0.53},{"s":"R","x":4.22,"y":0.49},{"s":"R","x":4.19,"y":0.46},{"s":"R","x":4.14,"y":0.54},{"s":"R","x":4.08,"y":0.62},{"s":"R","x":4.03,"y":0.64},{"s":"R","x":3.96,"y":0.62},{"s":"R","x":3.89,"y":0.60},{"s":"R","x":3.83,"y":0.58},{"s":"R","x":3.78,"y":0.59},{"s":"R","x":3.73,"y":0.64},{"s":"R","x":3.68,"y":0.70},{"s":"R","x":3.64,"y":0.66},{"s":"R","x":3.58,"y":0.60},{"s":"R","x":3.54,"y":0.59},{"s":"R","x":3.48,"y":0.62},{"s":"R","x":3.42,"y":0.64},{"s":"R","x":3.35,"y":0.66},{"s":"R","x":3.28,"y":0.68},{"s":"R","x":3.20,"y":0.69},{"s":"R","x":3.14,"y":0.70},{"s":"R","x":3.08,"y":0.70},{"s":"R","x":3.00,"y":0.71},{"s":"R","x":2.93,"y":0.73},{"s":"R","x":2.86,"y":0.75},{"s":"R","x":2.80,"y":0.76},{"s":"R","x":2.74,"y":0.77},{"s":"R","x":2.68,"y":0.84},{"s":"R","x":2.60,"y":0.89},{"s":"R","x":2.53,"y":0.91},{"s":"R","x":2.47,"y":0.94},{"s":"R","x":2.42,"y":0.98},{"s":"R","x":2.36,"y":1.01},{"s":"R","x":2.31,"y":1.04},{"s":"R","x":2.30,"y":1.10},{"s":"R","x":2.29,"y":1.16},{"s":"R","x":2.25,"y":1.22},{"s":"R","x":2.24,"y":1.29},{"s":"R","x":2.21,"y":1.37},{"s":"R","x":2.22,"y":1.43},{"s":"R","x":2.19,"y":1.50},{"s":"R","x":2.16,"y":1.56},{"s":"R","x":2.13,"y":1.60},{"s":"R","x":2.12,"y":1.67},{"s":"R","x":2.12,"y":1.72},{"s":"R","x":2.16,"y":1.77},{"s":"R","x":2.19,"y":1.81},{"s":"R","x":2.14,"y":1.85},{"s":"R","x":2.10,"y":1.84},{"s":"R","x":2.14,"y":1.92},{"s":"R","x":2.14,"y":2.00},{"s":"R","x":2.18,"y":2.05},{"s":"R","x":2.22,"y":2.07},{"s":"R","x":2.28,"y":2.09},{"s":"R","x":2.34,"y":2.11},{"s":"R","x":2.40,"y":2.13},{"s":"R","x":2.46,"y":2.14},{"s":"R","x":2.52,"y":2.16},{"s":"R","x":2.58,"y":2.19},{"s":"R","x":2.63,"y":2.22},{"s":"R","x":2.68,"y":2.24},{"s":"R","x":2.73,"y":2.28},{"s":"R","x":2.78,"y":2.31},{"s":"R","x":2.83,"y":2.35},{"s":"R","x":2.81,"y":2.26},{"s":"R","x":2.80,"y":2.18},{"s":"R","x":2.76,"y":2.10},{"s":"R","x":2.72,"y":2.07},{"s":"R","x":2.66,"y":2.10},{"s":"R","x":2.60,"y":2.09},{"s":"R","x":2.54,"y":2.06},{"s":"R","x":2.48,"y":2.04},{"s":"R","x":2.42,"y":2.03},{"s":"R","x":2.36,"y":1.99},{"s":"R","x":2.32,"y":1.93},{"s":"R","x":2.28,"y":1.86},{"s":"R","x":2.22,"y":1.85},{"s":"R","x":2.16,"y":1.87},{"s":"R","x":2.08,"y":1.91},{"s":"R","x":2.00,"y":1.92},{"s":"R","x":1.94,"y":1.90},{"s":"R","x":1.88,"y":1.87},{"s":"R","x":1.82,"y":1.83},{"s":"R","x":1.80,"y":1.89},{"s":"R","x":1.83,"y":1.95},{"s":"R","x":1.88,"y":2.00},{"s":"R","x":1.86,"y":2.06},{"s":"R","x":1.80,"y":2.09},{"s":"R","x":1.75,"y":2.11},{"s":"R","x":1.70,"y":2.09},{"s":"R","x":1.66,"y":2.12},{"s":"R","x":1.62,"y":2.15},{"s":"R","x":1.58,"y":2.17},{"s":"R","x":1.53,"y":2.20},{"s":"R","x":1.50,"y":2.23},{"s":"R","x":1.45,"y":2.22},{"s":"R","x":1.40,"y":2.24},{"s":"R","x":1.36,"y":2.24},{"s":"R","x":1.38,"y":2.15},{"s":"R","x":1.40,"y":2.08},{"s":"R","x":1.38,"y":2.03},{"s":"R","x":1.33,"y":1.99},{"s":"R","x":1.28,"y":2.00},{"s":"R","x":1.22,"y":2.01},{"s":"R","x":1.17,"y":1.98},{"s":"R","x":1.13,"y":1.96}
    ],
    "notes": [
      {"x":2.99,"y":-0.53,"x2":2.54,"y2":2.15},
      {"x":3.10,"y":-0.53,"x2":3.29,"y2":0.0},
      {"x":3.17,"y":-0.53,"x2":3.62,"y2":0.20},
      {"x":3.01,"y":-0.88,"x2":2.65,"y2":-2.12},
      {"x":4.15,"y":-0.49,"x2":3.70,"y2":0.59},
      {"x":4.27,"y":-0.77,"x2":4.53,"y2":-1.16},
      {"x":4.74,"y":1.18,"x2":4.57,"y2":-0.23},
      {"x":1.32,"y":-2.20,"x2":1.60,"y2":-2.70},
      {"x":6.80,"y":-0.58,"x2":5.83,"y2":-0.43},
      {"x":6.80,"y":-0.685,"x2":6.06,"y2":-0.66},
      {"x":6.12,"y":-3.33,"x2":5.88,"y2":-2.07},
      {"x":6.08,"y":-3.44,"x2":5.57,"y2":-3.13}
    ],
    "tags": [
      {"x":3.10,"y":-0.73,"t":"COX2"},
      {"x":4.37,"y":-0.685,"t":"tRNA-Met"},
      {"x":4.79,"y":1.30,"t":"ND4L"},
      {"x":1.81,"y":-2.95,"t":"ND4L"},
      {"x":6.99,"y":-0.64,"t":"ATP6"},
      {"x":6.24,"y":-3.51,"t":"ND6"}
    ],
    "star": [
      {"x":-0.285,"y":2.31},{"x":-0.19,"y":1.565},{"x":0.345,"y":1.44},{"x":-0.19,"y":1.315},{"x":-0.285,"y":0.59},{"x":-0.375,"y":1.315},{"x":-0.86,"y":1.44},{"x":-0.375,"y":1.565},{"x":-0.285,"y":2.31}
    ],
    "starLabels": [
      {"x":-0.27,"y":2.48,"t":"C"},{"x":-0.995,"y":1.40,"t":"A"},{"x":0.42,"y":1.40,"t":"T"},{"x":-0.27,"y":0.31,"t":"G"}
    ],
    "mult": [
      {"x":-1.832,"y":3.034,"t":"x10²"},{"x":8.76,"y":-3.958,"t":"x10²"}
    ]
  },
  "resolve": {"axis": {"x": "independent", "y": "independent"}},
  "layer": [
    {
      "data": {"name": "walk"},
      "mark": {"type": "line", "strokeWidth": 1.8, "strokeJoin": "miter", "clip": true},
      "encoding": {
        "x": {"field": "x", "type": "quantitative", "scale": {"domain": [-1.314, 7.344], "nice": false, "zero": false},
          "axis": {"orient": "bottom", "values": [-1,-0.5,0,0.5,1,1.5,2,2.5,3,3.5,4,4.5,5,5.5,6,6.5,7], "labelExpr": "replace(format(datum.value,'.1f'),'\u2212','-')", "grid": true, "gridColor": "#c6c6c6", "gridWidth": 2, "domain": false, "ticks": true, "tickSize": -7, "tickWidth": 2, "tickColor": "#111", "labelFont": "Liberation Sans", "labelFontSize": 18, "labelColor": "#333", "labelPadding": 26, "labelFlush": false, "labelOverlap": false, "title": "A - T", "titleFont": "Liberation Sans", "titleFontSize": 19, "titleFontWeight": "normal", "titleColor": "#333", "titlePadding": 25, "zindex": 0}},
        "y": {"field": "y", "type": "quantitative", "scale": {"domain": [-3.611, 2.891], "nice": false, "zero": false},
          "axis": {"orient": "left", "values": [-3,-2,-1,0,1,2], "labelExpr": "replace(format(datum.value,'d'),'\u2212','-')", "grid": true, "gridColor": "#c6c6c6", "gridWidth": 2, "domain": false, "ticks": true, "tickSize": -7, "tickWidth": 2, "tickColor": "#111", "labelFont": "Liberation Sans", "labelFontSize": 18, "labelColor": "#333", "labelPadding": 15, "labelFlush": false, "labelOverlap": false, "title": "G - C", "titleFont": "Liberation Sans", "titleFontSize": 19, "titleFontWeight": "normal", "titleColor": "#333", "titlePadding": 6, "zindex": 0}},
        "color": {"field": "s", "type": "nominal",
          "scale": {"domain": ["R","K","C","B"], "range": ["#ff0000","#000000","#17a2a2","#0000ff"]},
          "legend": {"orient": "none", "legendX": 1108, "legendY": 13, "title": null, "padding": 0, "symbolOpacity": 0, "symbolSize": 0, "symbolStrokeWidth": 0, "labelOffset": 0, "labelAlign": "right", "labelBaseline": "middle", "labelFont": "Liberation Serif", "labelFontStyle": "italic", "labelFontSize": 19, "labelColor": "#222", "labelLimit": 400, "rowPadding": 4,
            "labelExpr": "datum.label == 'R' ? 'Drifa groenlandica' : datum.label == 'K' ? 'Drifa glomerata' : datum.label == 'C' ? 'Drifa flavescens' : 'Duva florida'"}},
        "order": {"value": null}
      }
    },
    {
      "data": {"name": "notes"},
      "mark": {"type": "rule", "color": "#111", "strokeWidth": 1.6},
      "encoding": {
        "x": {"field": "x", "type": "quantitative", "scale": {"domain": [-1.314, 7.344], "nice": false, "zero": false},
          "axis": {"orient": "top", "values": [-1,-0.5,0,0.5,1,1.5,2,2.5,3,3.5,4,4.5,5,5.5,6,6.5,7], "labels": false, "grid": false, "domain": false, "ticks": true, "tickSize": -7, "tickWidth": 2, "tickColor": "#111", "title": null, "zindex": 1}},
        "y": {"field": "y", "type": "quantitative", "scale": {"domain": [-3.611, 2.891], "nice": false, "zero": false},
          "axis": {"orient": "right", "values": [-3,-2,-1,0,1,2], "labels": false, "grid": false, "domain": false, "ticks": true, "tickSize": -7, "tickWidth": 2, "tickColor": "#111", "title": null, "zindex": 1}},
        "x2": {"field": "x2"},
        "y2": {"field": "y2"}
      }
    },
    {
      "data": {"name": "tags"},
      "mark": {"type": "text", "font": "Lato", "fontSize": 14, "color": "#111", "align": "center", "baseline": "middle"},
      "encoding": {
        "x": {"field": "x", "type": "quantitative", "axis": null},
        "y": {"field": "y", "type": "quantitative", "axis": null},
        "text": {"field": "t"}
      }
    },
    {
      "data": {"name": "star"},
      "mark": {"type": "line", "color": "#222", "strokeWidth": 2, "strokeJoin": "miter"},
      "encoding": {
        "x": {"field": "x", "type": "quantitative", "axis": null},
        "y": {"field": "y", "type": "quantitative", "axis": null},
        "order": {"value": null}
      }
    },
    {
      "data": {"name": "starLabels"},
      "mark": {"type": "text", "font": "Liberation Sans", "fontSize": 19, "color": "#222", "align": "center", "baseline": "middle"},
      "encoding": {
        "x": {"field": "x", "type": "quantitative", "axis": null},
        "y": {"field": "y", "type": "quantitative", "axis": null},
        "text": {"field": "t"}
      }
    },
    {
      "data": {"name": "mult"},
      "mark": {"type": "text", "font": "Liberation Sans", "fontSize": 19, "color": "#333", "align": "left", "baseline": "alphabetic"},
      "encoding": {
        "x": {"field": "x", "type": "quantitative", "axis": null},
        "y": {"field": "y", "type": "quantitative", "axis": null},
        "text": {"field": "t"}
      }
    }
  ]
}
